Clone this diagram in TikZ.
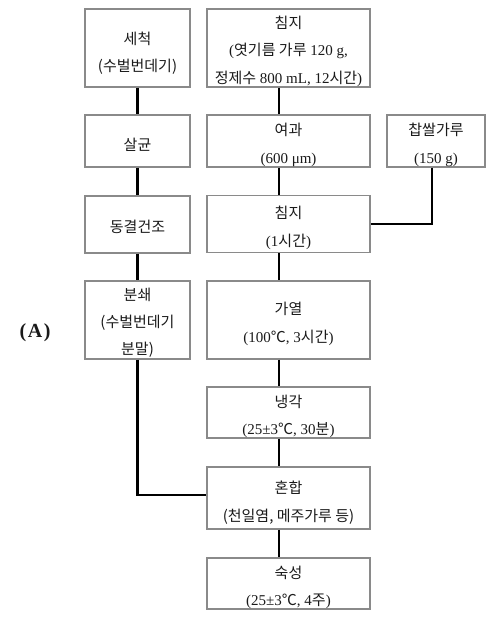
\documentclass[tikz,border=0pt]{standalone}
\usepackage{fontspec}
\setmainfont{Liberation Serif}
\newfontfamily\kr{Noto Sans CJK KR}
\newcommand{\K}[1]{{\kr #1}}
\definecolor{boxgray}{HTML}{8A8A8A}
\definecolor{txt}{HTML}{1A1A1A}
\begin{document}
\begin{tikzpicture}[x=0.75pt,y=-0.75pt,
  txtlab/.style={align=center, inner sep=0pt, text=txt,
    font=\fontsize{11.25pt}{20.5pt}\selectfont},
  box/.style={draw=boxgray, line width=0.8pt, fill=white, inner sep=0pt},
  lbox/.style={box, minimum width=78.75pt},
  rbox/.style={box, minimum width=122.25pt},
  link/.style={line width=1.6pt, black}]
\useasboundingbox[fill=white] (0,0) rectangle (496,622);
\coordinate (cR) at (279,0);
\coordinate (cS) at (432,0);
% left column
\node[lbox, minimum height=58.5pt,
  label={[txtlab, yshift=-4pt]center:{\K{세척}\\\K{(수벌번데기)}}}] (wash) at (137.5,48) {};
\node[lbox, minimum height=39pt,
  label={[txtlab, yshift=-2.5pt]center:{\K{살균}}}] (steril) at (137.5,141) {};
\node[lbox, minimum height=42.75pt,
  label={[txtlab, yshift=-1.5pt]center:{\K{동결건조}}}] (freeze) at (137.5,224.5) {};
\node[lbox, minimum height=58.5pt,
  label={[txtlab, yshift=-2pt]center:{\K{분쇄}\\\K{(수벌번데기}\\\K{분말)}}}] (grind) at (137.5,320) {};
% right column
\node[rbox, minimum height=58.5pt,
  label={[txtlab, yshift=-2.5pt]center:{\K{침지}\\(\K{엿기름 가루} 120 g,\\\K{정제수} 800 mL, 12\K{시간})}}] (soak1) at (288.5,48) {};
\node[rbox, minimum height=39pt,
  label={[txtlab, yshift=-3pt]center:{\K{여과}\\(600 μm)}}] (filt) at (288.5,141) {};
\node[box, minimum width=73.5pt, minimum height=39pt,
  label={[txtlab, yshift=-3pt]center:{\K{찹쌀가루}\\(150 g)}}] (rice) at (436,141) {};
\node[rbox, minimum height=42.75pt,
  label={[txtlab, yshift=-3pt]center:{\K{침지}\\(1\K{시간})}}] (soak2) at (288.5,224) {};
\node[rbox, minimum height=58.5pt,
  label={[txtlab, yshift=-3pt]center:{\K{가열}\\(100\K{℃}, 3\K{시간})}}] (heat) at (288.5,320) {};
\node[rbox, minimum height=38.25pt,
  label={[txtlab, yshift=-3pt]center:{\K{냉각}\\(25±3\K{℃}, 30\K{분})}}] (cool) at (288.5,412.5) {};
\node[rbox, minimum height=46.5pt,
  label={[txtlab, yshift=-3.5pt]center:{\K{혼합}\\\K{(천일염, 메주가루 등)}}}] (mix) at (288.5,498) {};
\node[rbox, minimum height=38.25pt,
  label={[txtlab, yshift=-3pt]center:{\K{숙성}\\(25±3\K{℃}, 4\K{주})}}] (age) at (288.5,583.5) {};
% label
\node[font=\fontsize{15pt}{17pt}\selectfont\bfseries, text=txt] (lab) at (35,333) {(\kern1.2pt A\kern1.2pt)};
% connectors
\draw[link] (wash) -- (steril);
\draw[link] (steril) -- (freeze);
\draw[link] (freeze) -- (grind);
\draw[link] (grind.south) |- ([yshift=2.25pt]mix.west);
\draw[link] (soak1.south -| cR) -- (filt.north -| cR);
\draw[link] (filt.south -| cR) -- (soak2.north -| cR);
\draw[link] (soak2.south -| cR) -- (heat.north -| cR);
\draw[link] (heat.south -| cR) -- (cool.north -| cR);
\draw[link] (cool.south -| cR) -- (mix.north -| cR);
\draw[link] (mix.south -| cR) -- (age.north -| cR);
\draw[link] (rice.south -| cS) |- (soak2.east);
\end{tikzpicture}
\end{document}
